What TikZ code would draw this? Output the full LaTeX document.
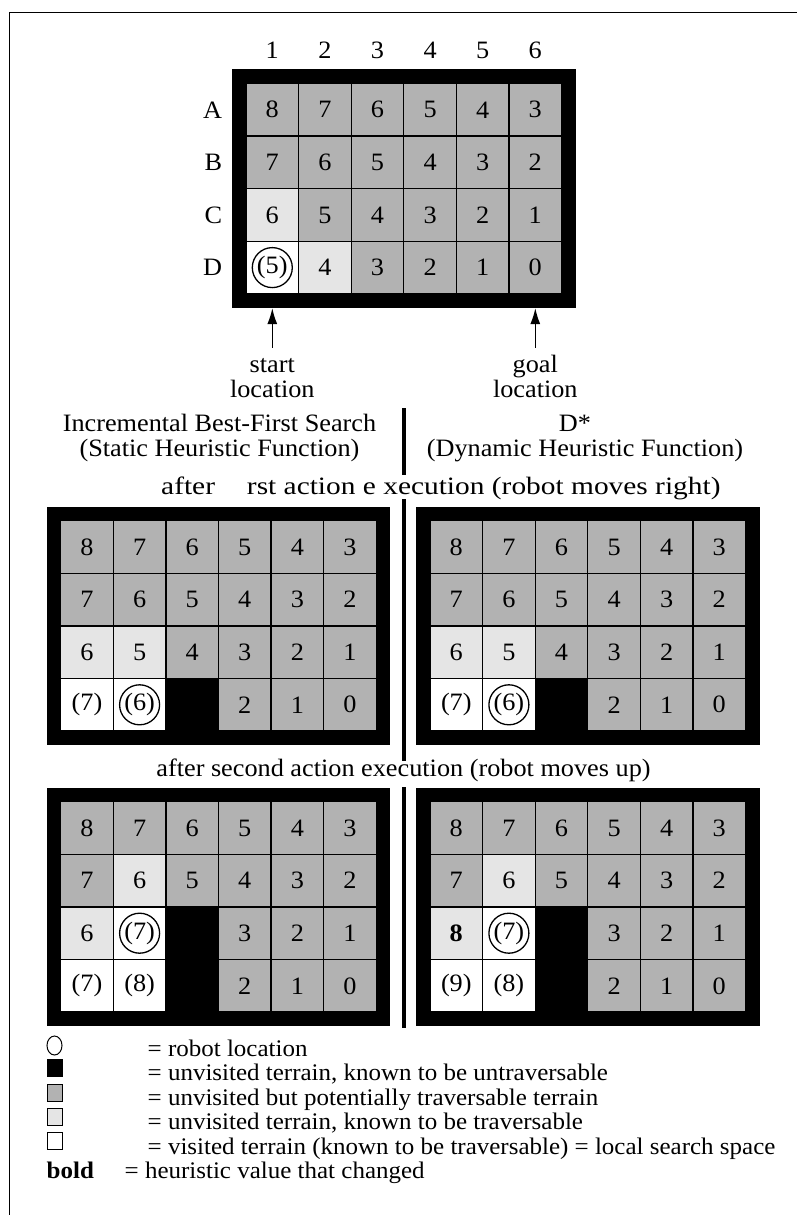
\documentclass[tikz,border=0pt]{standalone}
\usepackage{fontspec}
\setmainfont{Liberation Serif}[FakeStretch=1.05]
\usetikzlibrary{arrows.meta, positioning, shapes.geometric}

\tikzset{
  border/.style={fill=black, minimum width=343.6pt, minimum height=238.4pt, inner sep=0pt},
  cell/.style={draw=black, line width=1.3pt, minimum size=52.6pt, inner sep=0pt},
  cellu/.style={cell, fill=black!30},
  cellk/.style={cell, fill=black!10},
  cellv/.style={cell, fill=white},
  cellw/.style={cell, fill=black},
  robot/.style={circle, draw, line width=1.3pt, minimum size=40pt, inner sep=0pt},
  lbl/.style={inner sep=0pt},
  keytext/.style={lbl, anchor=base west, font=\fontsize{23.8pt}{25pt}\selectfont},
  pointer/.style={line width=1.3pt, -{Latex[length=16pt, width=10pt]}},
  divider/.style={line width=4pt},
  keybox/.style={draw, line width=1pt, minimum width=15pt, minimum height=17pt, inner sep=0pt},
}
\newcommand{\terrain}[5]{%
  \node[border] (#1) at ({#2+171.8},{#3+119.2}) {};
  \foreach \row [count=\r] in {#5} {
    \foreach \kind/\val [count=\c] in \row {
      \node[cell\kind] (#1-\r-\c) at ({#2+14+52.6*(\c-0.5)},{#3+14+52.6*(\r-0.5)}) {\val};
    }
  }
  \node[robot] (#1-bot) at (#1-#4) {};
}

\begin{document}
\begin{tikzpicture}[x=1pt, y=-1pt, font=\fontsize{25pt}{26pt}\selectfont]
\useasboundingbox (0,0) rectangle (797,1215);
\draw[line width=1.3pt] (9.5,1215) -- (9.5,12.5) -- (797,12.5);

\terrain{init}{232}{69.5}{4-1}{{u/8,u/7,u/6,u/5,u/4,u/3},{u/7,u/6,u/5,u/4,u/3,u/2},{k/6,u/5,u/4,u/3,u/2,u/1},{v/(5),k/4,u/3,u/2,u/1,u/0}}
\foreach \c in {1,...,6} \node[lbl, above=24pt of init-1-\c] (col\c) {\c};
\foreach \n [count=\r] in {A,B,C,D} \node[lbl, left=23pt of init-\r-1] (row\n) {\n};

\node[lbl, anchor=base, text height=17pt] (start) at (init-4-1 |- 0,372) {start};
\node[lbl, anchor=base] (startloc) at (init-4-1 |- 0,397) {location};
\node[lbl, anchor=base, text height=17pt] (goal) at (init-4-6 |- 0,372) {goal};
\node[lbl, anchor=base] (goalloc) at (init-4-6 |- 0,397) {location};
\draw[pointer, shorten <=7pt] (start) -- (start |- init.south);
\draw[pointer, shorten <=7pt] (goal) -- (goal |- init.south);

\node[lbl, anchor=base] (ibfs) at (219.5,431.7) {Incremental Best-First Search};
\node[lbl, anchor=base] (ibfssub) at (219.5,456.7) {(Static Heuristic Function)};
\node[lbl, anchor=base] (dstar) at (575,431.7) {D*};
\node[lbl, anchor=base] (dstarsub) at (585,456.7) {(Dynamic Heuristic Function)};
\node[lbl, anchor=base west] (first) at (161,494) {\scalebox{1.12}[1]{after\hspace{28.5pt}rst action e xecution (robot moves right)}};
\node[lbl, anchor=base] (second) at (403.5,776) {after second action execution (robot moves up)};

\terrain{ibfsA}{46.7}{506.7}{4-2}{{u/8,u/7,u/6,u/5,u/4,u/3},{u/7,u/6,u/5,u/4,u/3,u/2},{k/6,k/5,u/4,u/3,u/2,u/1},{v/(7),v/(6),w/{},u/2,u/1,u/0}}
\terrain{dstarA}{416}{506.7}{4-2}{{u/8,u/7,u/6,u/5,u/4,u/3},{u/7,u/6,u/5,u/4,u/3,u/2},{k/6,k/5,u/4,u/3,u/2,u/1},{v/(7),v/(6),w/{},u/2,u/1,u/0}}
\terrain{ibfsB}{46.7}{787.7}{3-2}{{u/8,u/7,u/6,u/5,u/4,u/3},{u/7,k/6,u/5,u/4,u/3,u/2},{k/6,v/(7),w/{},u/3,u/2,u/1},{v/(7),v/(8),w/{},u/2,u/1,u/0}}
\terrain{dstarB}{416}{787.7}{3-2}{{u/8,u/7,u/6,u/5,u/4,u/3},{u/7,k/6,u/5,u/4,u/3,u/2},{k/\textbf{8},v/(7),w/{},u/3,u/2,u/1},{v/(9),v/(8),w/{},u/2,u/1,u/0}}

\draw[divider] (404,408) -- (404,475);
\draw[divider] (404,499) -- (404,761);
\draw[divider] (404,787) -- (404,1028);

\node[ellipse, draw, line width=1pt, minimum width=15pt, minimum height=19pt, inner sep=0pt] (keyrobot) at (54.5,1045.5) {};
\node[keybox, fill=black] (keywall) at (54.5,1067.5) {};
\node[keybox, fill=black!30] (keyopen) at (54.5,1092.5) {};
\node[keybox, fill=black!10] (keyknown) at (54.5,1116.5) {};
\node[keybox, fill=white] (keyvisited) at (54.5,1141) {};
\foreach \y/\txt [count=\k] in {1056/{= robot location}, 1080.5/{= unvisited terrain, known to be untraversable}, 1105/{= unvisited but potentially traversable terrain}, 1129.5/{= unvisited terrain, known to be traversable}, 1154/{= visited terrain (known to be traversable) = local search space}}
  \node[keytext] (keytxt\k) at (147.5,\y) {\txt};
\node[keytext] (keybold) at (46.5,1178.5) {\textbf{bold}};
\node[keytext] (keyboldtxt) at (124.5,1178.5) {= heuristic value that changed};
\end{tikzpicture}
\end{document}
